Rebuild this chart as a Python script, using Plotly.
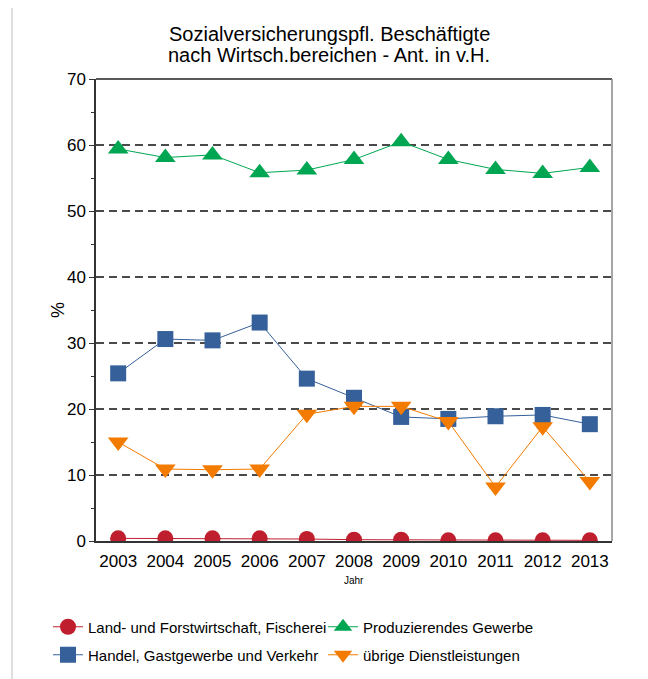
import plotly.graph_objects as go

years = [2003, 2004, 2005, 2006, 2007, 2008, 2009, 2010, 2011, 2012, 2013]
land = [0.4, 0.4, 0.4, 0.4, 0.3, 0.2, 0.2, 0.1, 0.1, 0.1, 0.1]
prod = [59.4, 58.1, 58.5, 55.8, 56.2, 57.8, 60.5, 57.8, 56.3, 55.7, 56.6]
handel = [25.4, 30.6, 30.4, 33.1, 24.6, 21.7, 18.8, 18.5, 18.9, 19.1, 17.7]
uebrige = [15.0, 10.9, 10.8, 10.9, 19.2, 20.4, 20.4, 18.1, 8.2, 17.3, 9.0]

names = ["Land- und Forstwirtschaft, Fischerei", "Produzierendes Gewerbe",
         "Handel, Gastgewerbe und Verkehr", "übrige Dienstleistungen"]
series = [land, prod, handel, uebrige]
colors = ["#BE1E2D", "#00A651", "#35609A", "#F27B00"]
symbols = ["circle", "triangle-up", "square", "triangle-down"]
sizes = [16, 18, 16, 18]
legend_ids = ["legend", "legend2", "legend3", "legend4"]
title_lines = ["Sozialversicherungspfl. Beschäftigte", "nach Wirtsch.bereichen - Ant. in v.H."]

fig = go.Figure()
for n, s, c, sym, sz, lg in zip(names, series, colors, symbols, sizes, legend_ids):
    fig.add_trace(go.Scatter(x=years, y=s, name=n, mode="lines+markers", legend=lg,
                             line=dict(color=c, width=1),
                             marker=dict(symbol=sym, size=sz, color=c,
                                         line=dict(width=0))))

OFF = 8  # page body margin
W, H = 648 - OFF, 679 - OFF
L, R, T, B = 96 - OFF, 612 - OFF, 79 - OFF, 541 - OFF
pw, ph = R - L, B - T

def px(x):
    return (x - OFF - L) / pw

def py(y):
    return (B - (y - OFF)) / ph

def cx(x):
    return (x - OFF) / W

def cy(y):
    return 1 - (y - OFF) / H

fig.add_shape(type="rect", xref="paper", yref="paper",
              x0=px(12), x1=px(641), y0=py(5), y1=py(720),
              line=dict(color="#D3D3D3", width=1.5), layer="below")

leg_common = dict(orientation="h", xanchor="left", yanchor="middle",
                  xref="container", yref="container", font=dict(size=15),
                  itemwidth=30, tracegroupgap=0, bgcolor="rgba(0,0,0,0)")
leg_pos = [(48, 627), (323, 627), (48, 655), (323, 655)]
legends = {lid: dict(x=cx(xp), y=cy(yp), **leg_common) for lid, (xp, yp) in zip(legend_ids, leg_pos)}

fig.update_layout(
    width=W, height=H,
    margin=dict(l=L, r=W - R, t=T, b=H - B, autoexpand=False),
    paper_bgcolor="white", plot_bgcolor="white",
    font=dict(family="Liberation Sans, Arial, sans-serif", color="#000000", size=16),
    showlegend=True,
    **legends,
)
for txt, yc in zip(title_lines, [33.5, 55]):
    fig.add_annotation(text=txt, xref="paper", yref="paper", x=px(329), y=py(yc),
                       showarrow=False, font=dict(size=20), xanchor="center", yanchor="middle")

fig.update_xaxes(range=[2002.53, 2013.47], tickvals=years, ticktext=[str(y) for y in years],
                 showgrid=False, showline=True, linecolor="#333333", linewidth=1.5,
                 mirror=False, ticks="", zeroline=False, tickfont=dict(size=17),
                 ticklabelstandoff=4)
fig.update_yaxes(range=[0, 70], tickvals=[0, 10, 20, 30, 40, 50, 60, 70],
                 showgrid=True, gridcolor="#4A4A4A", griddash="8px,5px", gridwidth=1.5,
                 showline=True, linecolor="#333333", linewidth=1.5, mirror=False,
                 ticks="outside", ticklen=5, tickcolor="#333333",
                 minor=dict(dtick=5, ticks="outside", ticklen=3, tickcolor="#333333", showgrid=False),
                 zeroline=False, tickfont=dict(size=17))
# top and right frame lines
fig.add_shape(type="line", xref="paper", yref="paper", x0=0, x1=1, y0=1, y1=1,
              line=dict(color="#222222", width=1.5))
fig.add_shape(type="line", xref="paper", yref="paper", x0=1, x1=1, y0=0, y1=1,
              line=dict(color="#888888", width=1.5))
fig.add_annotation(text="%", xref="paper", yref="paper", x=px(58), y=py(310), textangle=-90,
                   showarrow=False, font=dict(size=18), xanchor="center", yanchor="middle")
fig.add_annotation(text="Jahr", xref="paper", yref="paper", x=0.5, y=py(580),
                   showarrow=False, font=dict(size=10), xanchor="center", yanchor="middle")

fig.write_html("out.html")
